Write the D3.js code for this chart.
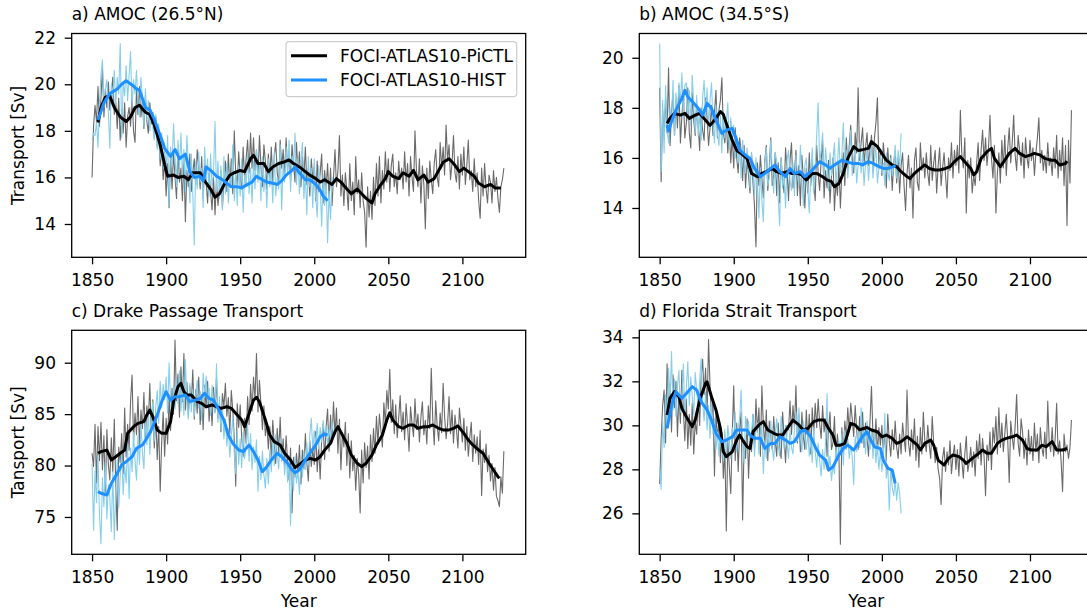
<!DOCTYPE html>
<html><head><meta charset="utf-8">
<script src="https://cdn.jsdelivr.net/npm/d3@7"></script>
<style>
body{margin:0;background:#fff;}
svg{display:block;font-family:"DejaVu Sans",sans-serif;}
</style>
</head><body>
<svg id="c" width="1087" height="610"></svg>
<script>
// ---------------- DATA ----------------
const startYear = 1850;
const xTickValues = [1850, 1900, 1950, 2000, 2050, 2100];
const titles = ["a) AMOC (26.5°N)", "b) AMOC (34.5°S)", "c) Drake Passage Transport", "d) Florida Strait Transport"];
const yLabels = ["Transport [Sv]", "Tansport [Sv]"];
const xLabel = "Year";
const legendLabels = ["FOCI-ATLAS10-PiCTL", "FOCI-ATLAS10-HIST"];
const yTicksA = [14, 16, 18, 20, 22];
const yTicksB = [14, 16, 18, 20];
const yTicksC = [75, 80, 85, 90];
const yTicksD = [26, 28, 30, 32, 34];

// a) AMOC 26.5N  annual, PiCTL 1850-2128
const amocN_pictl = [
16.0,18.2,19.1,18.4,19.9,18.2,19.4,20.7,18.6,19.8,
19.0,20.1,18.9,19.6,20.3,18.7,19.2,18.1,19.4,17.6,
18.9,17.9,19.2,17.3,18.6,19.0,18.2,19.6,18.0,17.5,
19.8,18.7,19.9,18.6,19.3,18.1,19.5,18.4,17.9,19.2,
18.3,18.8,17.7,18.6,17.3,17.9,16.5,17.4,15.9,16.8,
15.2,16.6,14.7,16.9,15.5,17.1,16.0,15.1,17.2,15.8,
16.4,15.0,16.9,14.1,16.3,15.6,17.0,15.4,16.2,16.8,
15.7,17.2,16.4,15.5,16.9,15.1,16.6,15.8,14.9,16.2,
15.4,14.6,16.0,14.4,15.9,14.8,15.5,16.3,14.7,15.8,
16.7,15.4,17.0,15.6,16.8,15.3,18.0,16.1,15.7,17.1,
16.0,15.5,17.3,15.9,16.8,17.6,16.2,17.9,16.4,17.7,
16.3,17.2,15.9,17.8,16.5,15.6,17.4,16.7,15.5,17.0,
16.0,17.3,15.8,16.9,17.5,16.2,15.7,17.6,16.4,17.2,
16.1,17.7,16.3,17.0,15.9,17.4,16.6,15.8,17.5,16.2,
17.1,15.6,16.9,16.0,17.3,15.7,16.4,15.2,16.8,15.9,
16.5,15.0,16.7,15.4,16.2,17.0,14.9,16.3,15.5,16.6,
15.1,16.4,14.8,16.0,17.2,15.6,16.3,17.8,15.2,16.1,
14.8,16.2,15.5,14.6,16.6,15.0,15.8,14.4,16.9,15.3,
15.9,14.7,16.2,15.0,14.5,13.0,15.6,14.3,15.4,14.2,
16.0,14.8,16.6,15.2,16.9,14.9,16.3,15.5,17.1,15.8,
16.8,15.4,16.5,17.0,15.6,16.2,15.3,16.7,15.9,16.4,
15.5,17.1,15.8,16.6,15.2,16.9,16.0,15.4,18.0,16.3,
15.6,16.8,14.9,16.5,15.7,13.8,16.4,15.1,16.7,15.9,
15.3,16.6,17.2,16.0,15.6,17.5,16.4,17.3,16.1,18.25,
16.7,17.4,15.9,16.6,17.8,16.2,15.8,16.9,15.5,17.0,
16.1,17.3,15.7,16.5,17.6,15.9,16.3,15.4,16.8,15.6,
16.2,15.0,14.25,16.4,15.2,16.6,15.5,14.9,16.1,15.8,
14.9,16.3,15.4,16.0,15.1,14.5,15.6,15.9,16.4
];
// a) AMOC 26.5N annual, HIST 1850-2013
const amocN_hist = [
17.6,17.9,17.8,18.4,17.3,19.2,20.4,21.05,19.0,19.8,
20.2,18.8,17.25,20.0,19.4,20.6,19.1,20.3,19.6,21.75,
17.7,20.1,19.5,20.8,19.3,20.4,21.4,19.0,20.2,19.6,
20.6,19.1,18.6,20.3,19.4,18.2,19.8,18.5,19.3,18.0,
18.9,18.2,17.6,18.7,17.2,18.3,16.8,17.9,16.4,17.5,
16.2,17.8,14.8,17.3,16.5,18.3,16.9,15.6,17.6,16.4,
17.9,16.0,17.2,15.4,17.8,16.6,14.9,17.0,15.3,13.1,
16.7,15.5,17.1,15.8,16.4,14.7,17.3,15.9,16.8,15.2,
17.0,15.6,16.2,18.4,15.4,16.7,15.1,16.5,14.6,16.9,
15.3,16.6,14.9,16.2,15.7,17.4,15.0,16.3,14.8,16.5,
15.2,16.8,14.5,16.1,15.6,17.0,15.3,16.4,14.9,16.7,
15.5,17.2,15.8,16.6,15.0,16.9,15.4,16.2,14.7,16.8,
15.6,16.3,14.9,17.1,15.2,16.0,15.5,17.4,14.6,16.6,
15.8,17.3,16.1,17.6,15.4,16.9,16.4,17.9,15.7,16.8,
15.3,16.7,17.5,15.1,16.2,14.4,16.9,15.6,16.4,14.7,
16.8,15.2,14.3,16.5,15.7,13.9,16.1,14.8,15.9,13.2,
15.4,14.2,16.0,15.6
];
// a) running means [year, value]
const amocN_pictl_smooth = [
[1854,18.36],[1856,19.0],[1859,19.45],[1862,19.5],[1865,19.0],[1869,18.6],[1873,18.4],[1876,18.6],[1879,19.0],[1882,19.1],
[1886,18.8],[1889,18.7],[1892,18.25],[1896,17.4],[1899,16.55],[1901,16.05],[1905,16.1],[1908,16.0],[1912,16.05],[1915,15.9],
[1918,16.2],[1923,16.2],[1926,15.85],[1930,15.5],[1933,15.15],[1936,15.3],[1940,15.8],[1943,16.1],[1946,16.2],[1950,16.3],
[1953,16.25],[1957,16.8],[1959,16.95],[1962,16.6],[1966,16.6],[1969,16.25],[1972,16.45],[1976,16.6],[1979,16.65],[1983,16.75],
[1986,16.6],[1990,16.45],[1994,16.25],[1997,16.1],[2001,15.95],[2004,15.8],[2007,15.9],[2012,15.7],[2015,15.95],[2018,15.8],
[2022,15.5],[2025,15.3],[2029,15.5],[2032,15.3],[2035,15.1],[2039,14.9],[2041,15.3],[2044,15.6],[2048,15.95],[2050,16.25],
[2053,16.05],[2057,15.95],[2060,16.2],[2064,16.05],[2067,16.3],[2070,15.9],[2074,16.1],[2077,15.8],[2081,15.95],[2084,16.3],
[2087,16.65],[2091,16.8],[2094,16.6],[2098,16.25],[2101,16.4],[2104,16.25],[2108,16.05],[2111,15.75],[2115,15.6],[2119,15.7],
[2122,15.55],[2126,15.55]
];
const amocN_hist_smooth = [
[1854,18.47],[1858,19.2],[1862,19.6],[1867,19.8],[1870,20.0],[1873,20.15],[1877,19.97],[1880,19.8],[1882,19.75],[1886,19.0],
[1889,18.9],[1892,18.5],[1896,17.8],[1899,17.25],[1903,16.9],[1906,17.2],[1909,16.8],[1913,17.0],[1916,16.25],[1919,16.0],
[1923,16.05],[1925,15.85],[1927,16.45],[1931,16.25],[1934,16.05],[1937,15.95],[1941,15.75],[1944,15.6],[1948,15.6],[1951,15.55],
[1955,15.7],[1958,15.8],[1961,16.05],[1965,15.9],[1968,15.8],[1972,15.75],[1975,15.7],[1978,15.85],[1981,16.1],[1985,16.3],
[1987,16.45],[1990,16.2],[1994,15.9],[1997,15.9],[2001,15.7],[2004,15.45],[2006,15.2],[2009,15.0]
];

// b) AMOC 34.5S annual PiCTL
const amocS_pictl = [
18.8,15.05,17.9,16.8,18.4,17.0,19.6,16.5,17.8,18.6,
16.9,18.3,17.2,18.9,16.6,17.7,18.5,16.8,17.4,18.8,
17.0,16.4,18.6,17.5,16.9,18.2,17.3,16.3,18.0,17.1,
16.7,18.4,17.6,16.5,17.2,18.1,16.9,17.8,18.7,16.8,
17.9,18.3,19.2,17.0,16.6,17.5,16.2,17.1,15.8,16.9,
15.6,17.2,16.0,15.4,16.8,16.3,15.1,16.5,14.8,16.0,
15.3,14.6,16.2,15.0,14.1,12.45,15.8,14.9,16.1,15.2,
14.4,15.9,16.5,14.7,15.6,16.8,14.9,15.3,16.2,14.5,
15.8,14.2,16.0,15.1,14.6,16.4,15.5,14.3,15.9,16.6,
14.8,15.4,16.3,14.5,15.7,14.1,16.1,15.2,14.0,15.6,
14.6,16.2,14.9,15.8,15.0,14.3,16.5,15.4,14.7,15.9,
16.7,14.4,15.5,14.8,15.9,14.2,15.3,16.0,13.9,15.1,
14.5,15.8,14.0,15.4,16.2,14.9,16.8,15.6,16.5,17.3,
16.0,15.4,17.0,16.2,18.8,15.9,16.6,17.2,15.8,16.4,
17.0,15.7,16.3,16.9,15.5,16.8,17.4,18.4,15.6,16.2,
15.3,16.6,15.9,14.8,16.4,15.5,16.1,14.7,15.8,16.3,
15.0,16.0,14.6,15.7,16.2,14.9,13.9,15.4,16.1,14.8,
15.6,13.6,15.9,16.4,15.0,14.7,16.6,15.5,16.0,15.2,
16.2,15.4,14.9,16.5,15.1,15.8,16.3,14.6,15.7,16.4,
14.9,15.6,16.2,15.3,14.4,16.0,15.5,16.6,15.2,16.3,
15.7,16.5,15.4,17.9,16.1,15.6,16.8,13.8,15.9,15.2,
16.0,14.6,15.3,14.9,15.8,16.6,15.1,16.3,17.1,15.9,
16.8,15.7,16.4,17.7,16.0,15.2,16.5,13.8,15.4,16.2,
15.0,16.7,15.6,16.9,15.3,16.4,17.2,15.8,16.6,17.7,
16.1,15.5,16.9,16.3,15.7,16.6,15.2,16.8,16.0,15.6,
16.7,15.9,16.4,15.3,16.2,16.8,17.6,15.8,16.3,15.5,
16.1,15.4,16.6,15.7,16.0,15.3,16.4,15.6,16.9,15.2,
16.3,15.5,16.8,14.9,16.5,13.3,16.7,15.0,17.9
];
const amocS_hist = [
20.57,15.45,18.3,16.2,18.9,17.1,16.6,18.0,17.4,19.1,
16.9,18.6,17.8,19.0,18.2,19.4,17.6,18.9,19.0,17.5,
18.7,17.3,19.3,18.1,17.0,18.5,16.9,17.8,16.7,18.4,
19.1,17.6,18.8,17.2,18.3,19.0,17.4,16.6,18.1,17.0,
16.5,17.7,16.2,17.9,16.8,17.4,18.2,16.4,17.6,16.9,
17.3,16.0,16.9,15.8,16.5,15.2,16.7,15.9,15.4,16.4,
15.7,14.8,16.2,15.5,14.5,16.0,15.1,13.6,15.6,14.3,
13.45,15.8,16.4,14.9,15.2,16.7,15.5,14.6,16.2,15.9,
14.4,13.3,16.0,14.8,15.3,14.0,15.9,16.3,15.1,14.7,
15.8,14.5,16.1,15.4,14.9,16.5,15.2,14.1,15.7,16.0,
14.8,13.8,15.3,16.4,14.6,15.7,16.9,18.2,15.8,16.3,
17.0,15.1,16.4,15.6,14.7,16.2,15.3,15.9,16.6,15.0,
15.7,16.8,15.4,16.1,17.4,15.5,16.3,15.2,16.0,17.1,
15.3,15.9,16.4,15.0,15.7,16.6,15.4,16.2,14.9,15.8,
16.3,15.1,16.0,16.7,15.2,15.9,16.4,15.0,15.6,16.1,
15.4,15.8,14.9,16.2,15.5,15.1,16.0,15.3,15.7,16.5,
15.2,16.3,15.6,16.98
];
const amocS_pictl_smooth = [
[1855,17.38],[1857,17.58],[1860,17.78],[1864,17.71],[1867,17.78],[1870,17.58],[1874,17.71],[1877,17.78],[1881,17.5],[1884,17.3],
[1887,17.5],[1891,17.85],[1893,17.74],[1895,17.38],[1899,16.7],[1902,16.3],[1905,16.18],[1909,15.97],[1912,15.38],[1916,15.25],
[1919,15.38],[1922,15.45],[1926,15.58],[1929,15.45],[1932,15.38],[1936,15.45],[1939,15.38],[1943,15.38],[1946,15.32],[1949,15.12],
[1953,15.38],[1956,15.38],[1960,15.25],[1963,15.12],[1966,15.05],[1968,14.85],[1971,14.98],[1974,15.38],[1977,15.98],[1981,16.45],
[1984,16.3],[1987,16.33],[1991,16.38],[1993,16.65],[1997,16.45],[2000,16.18],[2003,15.91],[2007,15.72],[2010,15.65],[2013,15.45],
[2017,15.25],[2019,15.18],[2022,15.38],[2026,15.58],[2029,15.72],[2032,15.58],[2036,15.52],[2039,15.52],[2043,15.58],[2046,15.65],
[2049,15.85],[2053,16.05],[2056,15.85],[2060,15.58],[2062,15.32],[2064,15.45],[2067,15.98],[2071,16.25],[2074,16.38],[2076,15.98],
[2080,15.65],[2083,15.91],[2086,16.18],[2090,16.38],[2093,16.18],[2097,16.05],[2100,16.11],[2103,16.18],[2107,16.11],[2110,15.98],
[2114,15.91],[2117,15.91],[2120,15.72],[2124,15.78],[2125,15.87]
];
const amocS_hist_smooth = [
[1855,17.31],[1856,17.07],[1858,17.45],[1861,17.91],[1865,18.38],[1867,18.7],[1869,18.44],[1873,18.18],[1876,17.98],[1879,17.71],
[1882,18.18],[1885,17.98],[1888,17.51],[1892,16.98],[1895,17.11],[1899,17.18],[1902,16.71],[1904,16.31],[1908,16.11],[1911,15.98],
[1914,15.58],[1918,15.25],[1921,15.38],[1925,15.58],[1928,15.72],[1931,15.45],[1935,15.25],[1938,15.58],[1941,15.38],[1945,15.45],
[1948,15.25],[1952,15.45],[1955,15.65],[1958,15.85],[1962,15.72],[1965,15.58],[1968,15.72],[1973,15.91],[1976,15.85],[1980,15.78],
[1984,15.78],[1987,15.72],[1991,15.85],[1994,15.78],[1998,15.65],[2001,15.58],[2004,15.58],[2008,15.65],[2009,15.72]
];

// c) Drake Passage annual PiCTL
const drake_pictl = [
81.2,79.9,84.0,78.3,83.8,80.5,84.2,79.6,82.9,77.4,
83.5,80.1,78.6,82.7,79.4,84.5,77.9,73.7,81.8,80.3,
83.1,79.2,85.6,80.8,84.0,81.5,86.3,88.8,82.4,85.1,
83.0,86.7,81.9,85.4,83.6,87.1,82.5,85.8,84.3,88.0,
83.2,86.4,81.7,84.9,80.6,83.8,77.5,82.3,85.2,80.9,
84.6,82.1,86.8,83.4,87.5,85.0,92.2,86.3,88.9,84.7,
89.6,86.2,90.9,85.4,88.1,84.9,87.7,86.0,89.3,84.5,
87.4,85.1,88.6,84.0,86.9,83.5,87.8,85.6,88.2,84.3,
86.5,83.9,87.6,85.2,88.4,84.6,86.1,83.3,87.0,85.7,
88.0,84.8,86.6,83.1,87.3,85.4,82.6,78.0,86.0,83.7,
85.9,82.8,80.9,84.6,82.2,86.7,84.0,87.9,85.3,88.6,
86.4,90.9,85.2,88.3,86.0,83.5,85.8,82.9,84.1,81.6,
83.8,80.7,84.4,82.0,80.2,83.6,81.3,84.7,80.5,82.6,
79.8,82.9,80.4,78.6,81.7,75.4,80.8,78.9,81.2,79.3,
82.0,78.2,81.5,79.7,83.1,80.3,78.5,82.4,79.9,81.6,
80.1,83.3,79.4,81.9,78.7,82.5,84.0,80.6,83.7,85.5,
81.4,84.9,82.3,86.2,83.0,85.6,81.2,84.5,79.6,83.2,
81.8,84.2,80.0,83.1,78.8,82.4,79.5,81.0,77.6,80.7,
79.1,75.4,81.5,78.3,82.2,79.8,81.9,78.7,83.0,80.4,
83.6,81.2,84.8,82.1,85.0,83.4,81.8,86.1,84.0,87.3,
85.5,89.35,84.2,86.4,83.1,85.9,82.7,84.6,86.8,83.3,
85.2,82.5,86.0,83.9,81.4,85.7,84.1,82.8,86.5,83.5,
85.0,82.3,84.7,86.2,83.0,84.4,82.1,85.8,83.6,89.45,
84.5,82.0,86.3,83.8,82.4,85.1,83.2,88.0,84.8,82.6,
84.0,86.7,83.1,85.4,82.2,84.9,83.5,81.7,85.6,83.9,
82.3,84.6,81.5,83.8,80.9,82.7,84.2,80.4,83.0,81.2,
82.8,80.1,83.4,77.1,81.6,80.3,82.1,79.4,81.0,78.5,
80.2,77.6,79.8,77.0,76.6,76.0,78.9,77.3,81.4
];
const drake_hist = [
80.2,73.7,79.5,76.4,81.0,75.2,72.4,78.8,76.0,80.3,
74.8,78.1,76.9,73.6,79.4,72.8,77.5,80.6,75.9,79.0,
81.4,77.2,80.0,78.3,82.1,76.8,81.7,79.4,83.2,80.5,
78.6,82.9,80.1,84.0,81.3,79.7,84.6,82.0,85.3,81.1,
83.8,86.2,82.4,85.7,87.3,84.1,88.2,85.6,87.9,86.4,
88.6,85.1,90.0,86.3,84.7,87.8,85.5,88.4,86.0,89.2,
85.3,87.6,84.9,90.3,86.1,84.5,88.0,85.2,87.4,84.8,
86.9,88.3,85.6,87.2,84.4,89.0,86.6,88.7,85.9,87.5,
84.9,87.8,86.3,85.1,89.9,84.2,86.7,83.5,85.8,82.6,
84.5,81.9,83.6,80.8,82.9,84.7,81.3,79.2,83.4,80.1,
82.6,79.8,83.2,80.7,81.9,84.0,80.4,83.1,79.6,81.8,
80.3,82.5,77.5,80.9,78.6,81.4,79.1,77.8,80.7,78.2,
81.5,79.4,82.3,80.0,83.0,81.2,79.7,82.6,80.4,81.8,
79.1,81.3,78.4,80.6,74.2,79.8,77.6,80.9,78.3,79.5,
77.2,80.6,78.9,81.4,79.6,82.2,80.1,83.0,84.6,81.5,
83.4,82.0,84.1,81.6,83.7,82.3,84.4,82.8,83.9,81.9,
83.5,82.6,84.2,83.0
];
const drake_pictl_smooth = [
[1854,81.19],[1856,81.35],[1860,81.5],[1863,80.54],[1866,80.86],[1869,81.19],[1872,81.5],[1874,83.13],[1878,83.78],[1881,84.1],
[1885,84.27],[1887,84.92],[1889,85.4],[1891,84.76],[1894,83.46],[1897,83.13],[1900,83.13],[1903,84.27],[1905,86.21],[1908,87.67],
[1910,88.0],[1912,87.18],[1914,86.86],[1917,86.86],[1921,86.21],[1924,86.05],[1927,85.72],[1931,85.89],[1934,85.72],[1937,85.56],
[1941,85.72],[1944,85.56],[1948,84.92],[1951,84.43],[1953,83.78],[1956,85.05],[1959,86.37],[1961,86.63],[1963,86.2],[1967,84.43],
[1970,82.97],[1973,82.32],[1977,82.0],[1980,81.19],[1984,80.54],[1987,79.8],[1990,80.1],[1994,80.54],[1997,80.7],[2001,80.54],
[2004,80.86],[2007,81.5],[2011,82.16],[2014,83.29],[2016,83.78],[2019,82.97],[2022,82.16],[2025,81.03],[2029,80.22],[2032,79.89],
[2035,80.22],[2039,81.03],[2042,82.0],[2046,82.97],[2049,84.43],[2051,85.14],[2053,84.43],[2057,83.78],[2060,83.62],[2064,83.94],
[2067,83.94],[2070,83.62],[2074,83.78],[2077,83.78],[2080,83.94],[2084,83.62],[2087,83.46],[2091,83.46],[2094,83.62],[2097,83.85],
[2101,83.13],[2104,82.48],[2107,82.0],[2111,81.51],[2114,81.19],[2118,80.22],[2121,79.57],[2124,78.92],[2125,78.76]
];
const drake_hist_smooth = [
[1854,77.46],[1856,77.3],[1860,77.14],[1863,78.27],[1867,79.24],[1870,80.05],[1873,80.38],[1877,80.86],[1880,81.67],[1884,82.0],
[1887,82.65],[1890,83.46],[1894,84.92],[1897,86.21],[1900,87.18],[1903,86.37],[1906,86.7],[1909,86.7],[1913,86.86],[1916,86.21],
[1920,86.37],[1923,86.53],[1926,87.02],[1929,86.53],[1932,86.37],[1935,85.56],[1939,84.43],[1942,82.97],[1945,82.16],[1949,81.51],
[1952,81.35],[1956,82.0],[1959,81.35],[1962,80.54],[1965,79.4],[1968,79.89],[1971,80.54],[1975,81.19],[1978,80.86],[1982,80.22],
[1985,79.57],[1987,79.3],[1990,79.6],[1994,80.54],[1997,81.19],[2001,82.0],[2004,82.81],[2007,83.07],[2009,82.97]
];

// d) Florida Strait annual PiCTL
const florida_pictl = [
27.33,29.4,30.9,31.6,29.2,32.8,30.4,31.9,29.7,32.3,
30.8,32.0,29.5,31.4,30.1,32.5,30.7,29.3,31.2,28.95,
30.5,29.1,31.0,28.7,30.2,29.6,31.3,30.0,32.2,33.0,
31.4,32.6,30.5,33.9,31.8,30.3,31.1,27.7,30.6,29.4,
30.2,28.3,29.7,27.6,28.9,25.2,29.3,28.1,26.9,29.6,
31.8,28.4,30.1,27.9,29.8,30.6,25.7,29.2,28.5,30.3,
27.6,29.4,28.8,30.5,29.0,31.2,29.7,30.8,28.6,31.8,
30.0,29.1,30.7,28.4,30.2,29.5,28.9,30.4,29.3,28.6,
30.1,29.0,28.5,30.6,29.4,28.3,30.0,29.8,31.1,29.6,
30.9,29.9,31.8,29.2,30.4,28.8,30.6,29.5,28.9,30.7,
29.3,30.5,28.7,30.8,29.6,31.0,29.9,31.2,30.1,29.4,
30.9,29.7,30.3,28.6,29.8,30.6,28.9,29.2,30.4,28.5,
29.6,28.8,24.6,29.9,28.7,30.2,29.4,30.8,29.7,31.0,
30.3,29.5,30.9,29.8,28.9,30.4,29.2,30.6,29.0,30.1,
29.4,28.6,30.2,31.76,29.5,29.0,30.3,28.7,29.9,29.1,
30.0,28.8,29.7,28.4,30.5,29.3,28.6,29.8,28.9,30.2,
29.0,28.5,29.6,28.7,30.1,29.4,28.8,31.6,29.2,28.6,
29.8,28.9,30.3,28.4,29.5,28.1,29.9,28.7,30.6,29.3,
28.8,30.0,29.1,28.5,30.4,29.2,28.3,29.0,28.0,27.6,
26.4,28.5,29.0,27.9,28.8,28.2,29.3,27.8,28.6,29.1,
28.0,28.9,27.7,29.2,28.4,27.6,28.7,29.5,27.9,28.3,
29.0,28.1,28.8,27.7,29.3,28.5,29.6,28.2,29.4,28.6,
26.8,29.1,28.4,29.7,28.0,29.9,29.2,30.4,28.7,30.8,
29.0,30.1,28.8,29.6,30.5,29.3,27.4,30.2,29.5,28.9,
30.0,31.4,29.2,28.6,30.3,29.7,28.5,29.4,28.2,29.8,
28.7,29.5,28.4,30.1,28.8,29.6,28.3,29.9,29.0,28.6,
29.7,28.5,31.1,29.2,28.8,29.9,28.6,29.4,31.0,28.7,
29.3,28.4,27.0,29.6,28.8,29.1,28.5,29.0,30.24
];
const florida_hist = [
28.05,27.1,30.2,29.0,31.4,30.1,32.6,31.0,33.35,30.7,
32.1,30.4,31.8,32.5,30.6,31.2,32.8,30.3,31.7,32.9,
30.9,32.2,31.3,30.5,32.4,31.6,30.8,32.0,33.05,31.1,
30.2,31.5,29.8,30.9,29.4,31.0,29.6,30.3,28.9,29.7,
28.6,30.1,29.0,28.4,29.8,28.7,30.0,29.3,28.5,29.9,
29.4,30.6,28.8,29.9,30.3,31.6,29.1,28.3,30.4,29.6,
30.2,28.9,29.7,30.5,28.6,29.8,30.1,28.7,29.5,30.0,
27.8,29.3,28.5,29.9,28.8,30.2,29.0,28.4,29.6,30.3,
29.1,28.6,30.4,29.7,28.9,30.0,29.2,28.5,29.8,29.0,
28.7,29.9,30.6,29.3,30.8,29.5,28.8,30.2,29.6,28.9,
29.7,28.6,29.4,28.3,29.9,28.8,28.1,29.2,28.4,27.7,
28.9,28.0,29.3,31.45,27.9,28.6,27.5,28.2,27.8,29.0,
28.4,29.3,28.7,29.6,28.2,29.8,28.9,29.4,28.5,29.1,
28.6,27.3,29.5,28.8,29.7,29.0,30.8,29.2,29.9,28.7,
30.2,29.4,28.9,29.8,28.5,29.6,28.3,29.1,28.0,28.8,
27.9,28.6,30.55,27.6,28.2,26.15,28.0,27.2,26.8,27.5,
26.6,27.4,26.9,26.0
];
const florida_pictl_smooth = [
[1855,30.47],[1857,31.23],[1860,31.53],[1863,31.3],[1865,30.77],[1868,30.39],[1872,29.94],[1874,30.24],[1877,31.15],[1881,31.91],
[1882,31.98],[1885,31.3],[1888,30.7],[1891,29.86],[1893,28.8],[1895,28.58],[1899,28.8],[1902,29.33],[1904,29.56],[1906,29.33],
[1909,29.03],[1911,28.95],[1913,29.71],[1917,30.02],[1920,30.17],[1923,29.79],[1927,29.64],[1930,29.56],[1933,29.56],[1937,29.94],
[1940,30.24],[1944,30.02],[1947,29.79],[1950,29.86],[1954,30.17],[1957,30.24],[1961,30.24],[1964,29.86],[1967,29.56],[1969,29.1],
[1972,29.1],[1975,29.18],[1979,30.09],[1982,30.02],[1985,29.8],[1990,29.9],[1993,29.79],[1997,29.71],[2000,29.48],[2003,29.56],
[2007,29.41],[2010,29.18],[2013,29.26],[2017,29.48],[2020,29.33],[2024,29.1],[2026,28.88],[2029,29.18],[2033,29.33],[2035,29.1],
[2038,28.42],[2042,28.2],[2045,28.5],[2048,28.65],[2052,28.58],[2055,28.42],[2057,28.27],[2061,28.5],[2064,28.65],[2068,28.88],
[2071,28.73],[2074,28.73],[2078,29.18],[2081,29.33],[2084,29.41],[2088,29.48],[2091,29.56],[2095,29.33],[2098,28.95],[2101,28.88],
[2105,28.88],[2108,29.1],[2111,29.03],[2115,29.26],[2118,28.88],[2122,28.88],[2125,28.95]
];
const florida_hist_smooth = [
[1855,29.86],[1857,30.55],[1859,31.15],[1861,31.53],[1865,31.23],[1868,31.45],[1872,31.76],[1875,31.6],[1878,31.08],[1882,30.7],
[1885,30.24],[1888,29.64],[1892,29.26],[1895,29.33],[1899,29.48],[1902,29.79],[1905,29.79],[1909,29.79],[1911,29.56],[1914,29.41],
[1918,29.41],[1921,28.95],[1925,29.18],[1928,29.18],[1931,29.48],[1935,29.33],[1938,29.18],[1941,29.26],[1945,29.71],[1948,29.79],
[1952,29.48],[1955,29.03],[1958,28.65],[1962,28.42],[1964,27.97],[1967,28.12],[1971,28.65],[1974,28.95],[1977,29.1],[1981,28.88],
[1984,29.18],[1987,29.5],[1990,29.71],[1992,29.41],[1995,29.03],[1999,28.95],[2001,28.42],[2004,28.05],[2007,27.97],[2009,27.36]
];

// ---------------- LAYOUT / STYLE ----------------
const FS = 17;
const plotW = 454;
const xDomain = [1836.25, 2142.75];
const colGray = "#6a6a6a", colLight = "#87ceeb", colBlack = "#000000", colBlue = "#1e90ff";

const panels = [
  {left:71.7,  top:33.5,  bottom:257.3, yd:[12.57,22.18], yt:yTicksA, title:titles[0], yl:yLabels[0], xl:false, pc:amocN_pictl, hi:amocN_hist, pcs:amocN_pictl_smooth, his:amocN_hist_smooth, legend:true},
  {left:639.3, top:33.5,  bottom:257.3, yd:[12.03,20.97], yt:yTicksB, title:titles[1], yl:null, xl:false, pc:amocS_pictl, hi:amocS_hist, pcs:amocS_pictl_smooth, his:amocS_hist_smooth},
  {left:71.7,  top:330.3, bottom:554.3, yd:[71.37,93.15], yt:yTicksC, title:titles[2], yl:yLabels[1], xl:true, pc:drake_pictl, hi:drake_hist, pcs:drake_pictl_smooth, his:drake_hist_smooth},
  {left:639.3, top:330.3, bottom:554.3, yd:[24.14,34.32], yt:yTicksD, title:titles[3], yl:null, xl:true, pc:florida_pictl, hi:florida_hist, pcs:florida_pictl_smooth, his:florida_hist_smooth}
];

const svg = d3.select("#c");
svg.append("rect").attr("width",1087).attr("height",610).attr("fill","#fff");

panels.forEach((p,k) => {
  const x = d3.scaleLinear().domain(xDomain).range([p.left, p.left+plotW]);
  const y = d3.scaleLinear().domain(p.yd).range([p.bottom, p.top]);
  const g = svg.append("g");
  const cid = "clip"+k;
  g.append("clipPath").attr("id",cid).append("rect")
    .attr("x",p.left).attr("y",p.top).attr("width",plotW).attr("height",p.bottom-p.top);
  const plot = g.append("g").attr("clip-path",`url(#${cid})`);

  const annual = d3.line().x((d,i)=>x(startYear+i)).y(d=>y(d));
  const smooth = d3.line().x(d=>x(d[0])).y(d=>y(d[1]));

  plot.append("path").datum(p.pc).attr("d",annual).attr("fill","none")
    .attr("stroke",colGray).attr("stroke-width",1.1).attr("stroke-linejoin","round");
  plot.append("path").datum(p.hi).attr("d",annual).attr("fill","none")
    .attr("stroke",colLight).attr("stroke-width",1.1).attr("stroke-linejoin","round");
  plot.append("path").datum(p.pcs).attr("d",smooth).attr("fill","none")
    .attr("stroke",colBlack).attr("stroke-width",3).attr("stroke-linejoin","round");
  plot.append("path").datum(p.his).attr("d",smooth).attr("fill","none")
    .attr("stroke",colBlue).attr("stroke-width",3).attr("stroke-linejoin","round");

  // axes
  const xa = d3.axisBottom(x).tickValues(xTickValues).tickFormat(d3.format("d")).tickSize(7).tickPadding(9.4).tickSizeOuter(0);
  const ya = d3.axisLeft(y).tickValues(p.yt).tickFormat(d3.format("d")).tickSize(7).tickPadding(8.7).tickSizeOuter(0);
  const gx = g.append("g").attr("transform",`translate(0,${p.bottom})`).call(xa);
  const gy = g.append("g").attr("transform",`translate(${p.left},0)`).call(ya);
  [gx,gy].forEach(a=>{
    a.select(".domain").remove();
    a.selectAll("line").attr("stroke","#000").attr("stroke-width",1.3);
    a.selectAll("text").attr("font-size",FS).attr("font-family","DejaVu Sans").attr("fill","#000");
  });

  // frame
  g.append("rect").attr("x",p.left).attr("y",p.top).attr("width",plotW).attr("height",p.bottom-p.top)
    .attr("fill","none").attr("stroke","#000").attr("stroke-width",1.3);

  // title
  g.append("text").attr("x",p.left).attr("y",p.top-13.5).attr("font-size",FS).text(p.title);
  if (p.yl) {
    g.append("text").attr("transform",`translate(24,${(p.top+p.bottom)/2}) rotate(-90)`)
      .attr("text-anchor","middle").attr("font-size",FS).text(p.yl);
  }
  if (p.xl) {
    g.append("text").attr("x",p.left+plotW/2).attr("y",606.5).attr("text-anchor","middle").attr("font-size",FS).text(xLabel);
  }
  if (p.legend) {
    const lg = g.append("g");
    lg.append("rect").attr("x",286).attr("y",41.7).attr("width",230.7).attr("height",55).attr("rx",3.5)
      .attr("fill","#fff").attr("fill-opacity",0.8).attr("stroke","#cccccc").attr("stroke-width",1.2);
    const cols = [colBlack, colBlue];
    legendLabels.forEach((t,i)=>{
      const yy = 55.7 + i*24.3;
      lg.append("line").attr("x1",291).attr("x2",327).attr("y1",yy).attr("y2",yy).attr("stroke",cols[i]).attr("stroke-width",3);
      lg.append("text").attr("x",340).attr("y",yy+6.2).attr("font-size",FS).text(t);
    });
  }
});
</script>
</body></html>
